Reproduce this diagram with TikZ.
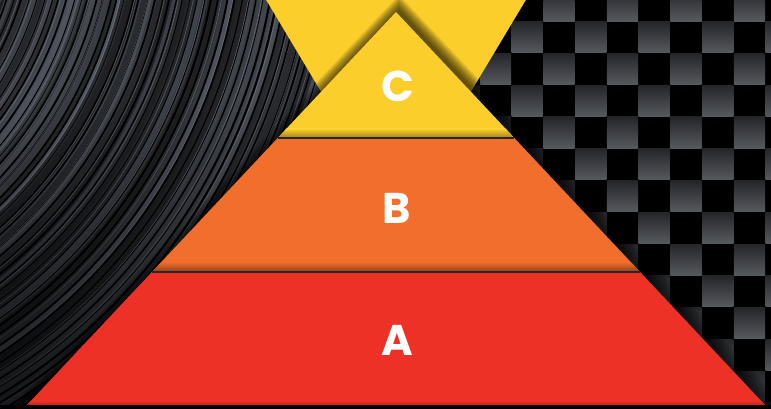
\documentclass[tikz,border=0pt]{standalone}
\usepackage{fontspec}
\newfontfamily\letterfont{Poppins}
\usetikzlibrary{fadings}
\definecolor{cyel}{RGB}{251,206,44}
\definecolor{corg}{RGB}{241,110,44}
\definecolor{cred}{RGB}{238,49,38}
\definecolor{vin}{RGB}{105,111,124}
\definecolor{vinbase}{RGB}{28,30,35}
\definecolor{sqtop}{RGB}{36,38,42}
\definecolor{sqbot}{RGB}{86,89,94}
\tikzset{
  letter/.style={text=white, font=\letterfont\bfseries\fontsize{43}{43}\selectfont, inner sep=0pt},
  tierline/.style={draw=black!85, line width=1.1pt},
}
\begin{document}
\begin{tikzpicture}[x=1pt,y=-1pt]
\useasboundingbox (0,0) rectangle (771,409);
\clip (0,0) rectangle (771,409);
% ---- vinyl background (left)
\begin{scope}
  \clip (0,0) rectangle (396,409);
  \fill[vinbase] (0,0) rectangle (396,409);
  \pgfmathsetseed{11}
  \foreach \i in {0,...,130} {
    \pgfmathsetmacro\rr{300+\i*5}
    \pgfmathsetmacro\g{25+55*rnd}
    \draw[vin!\g!black, line width=5.4pt] (-300,-100) circle (\rr pt);
  }
  \foreach \i in {0,...,95} {
    \pgfmathsetmacro\rr{300+\i*7.1+3*rnd}
    \pgfmathsetmacro\w{0.6+1.6*rnd}
    \draw[black, line width=\w pt] (-300,-100) circle (\rr pt);
  }
  \foreach \i in {0,...,45} {
    \pgfmathsetmacro\rr{302+\i*14.1+5*rnd}
    \draw[vin!80!white, line width=0.6pt, opacity=0.55] (-300,-100) circle (\rr pt);
  }
  \fill[black, path fading=north, fill opacity=0.85] (0,100) rectangle (396,480);
\end{scope}
% ---- checkerboard (right)
\begin{scope}
  \clip (396,0) rectangle (771,409);
  \fill[black] (396,0) rectangle (771,409);
  \foreach \r in {0,...,13} {
    \foreach \c in {0,...,12} {
      \pgfmathparse{int(mod(\r+\c,2))}
      \ifnum\pgfmathresult=1
        \shade[top color=sqtop, bottom color=sqbot]
          ({384.7+31.75*\c},{-10+31.75*\r}) rectangle ({384.7+31.75*(\c+1)-0.6},{-10+31.75*(\r+1)-0.6});
      \fi
    }
  }
\end{scope}
% ---- yellow V
\fill[cyel] (265,-2) -- (527,-2) -- (396,217) -- cycle;
% ---- pyramid soft shadow
\foreach \d in {1,...,12} {
  \fill[black, fill opacity=0.07] ({399},{11-1.35*\d}) -- ({27-1.3*\d},406) -- ({769+1.5*\d},406) -- cycle;
}
% ---- tiers
\coordinate (apex) at (396,12);
\coordinate (cl) at (277.7,138);
\coordinate (cr) at (514.3,138);
\coordinate (bl) at (151.9,272);
\coordinate (br) at (640.1,272);
\coordinate (al) at (27,405);
\coordinate (ar) at (765,405);
\fill[cyel] (apex) -- (cr) -- (cl) -- cycle;
\begin{scope}
  \clip (apex) -- (cr) -- (cl) -- cycle;
  \shade[top color=cyel, bottom color=cyel!62!black] (260,129) rectangle (530,138);
\end{scope}
\fill[corg] (cl) -- (cr) -- (br) -- (bl) -- cycle;
\begin{scope}
  \clip (cl) -- (cr) -- (br) -- (bl) -- cycle;
  \shade[top color=corg, bottom color=corg!58!black] (140,262) rectangle (650,272);
\end{scope}
\fill[cred] (bl) -- (br) -- (ar) -- (al) -- cycle;
\begin{scope}
  \clip (bl) -- (br) -- (ar) -- (al) -- cycle;
  \shade[top color=cred, bottom color=cred!75!black] (20,401) rectangle (770,405);
\end{scope}
\draw[tierline] (cl) -- (cr);
\draw[tierline] (bl) -- (br);
\fill[black] (0,405) rectangle (771,409);
% ---- letters
\node[letter] (c) at (397.5,86.5) {C};
\node[letter] (b) at (396.5,208) {B};
\node[letter] (a) at (397.5,340) {A};
\end{tikzpicture}
\end{document}
